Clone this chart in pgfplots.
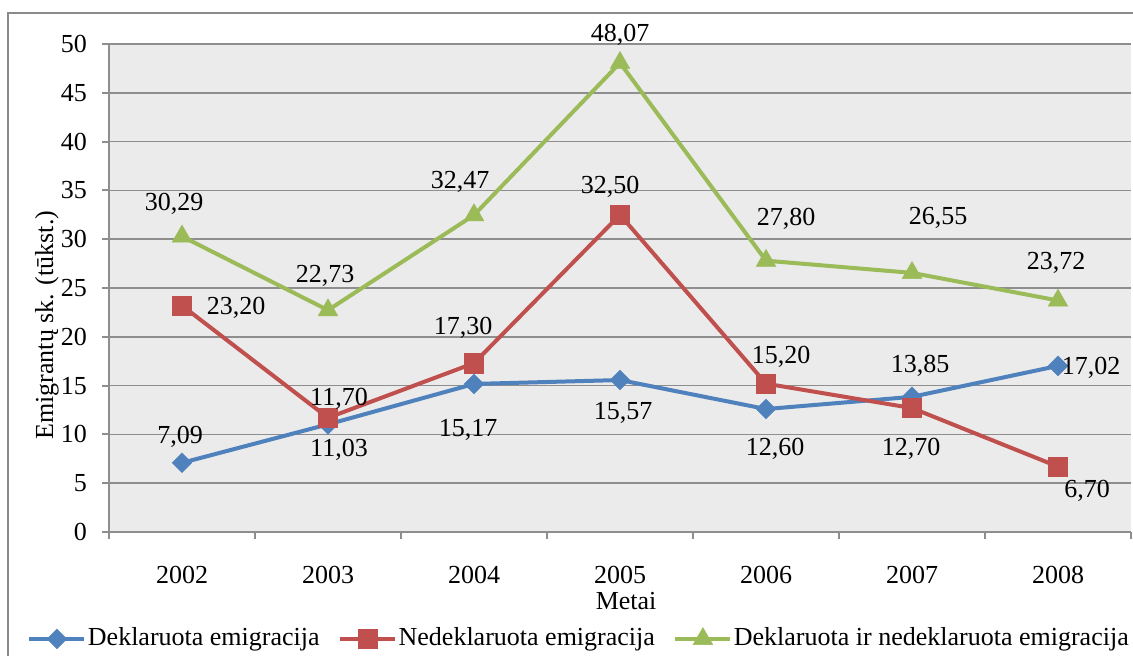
\documentclass[border=0pt]{standalone}
\usepackage{pgfplots}
\pgfplotsset{compat=1.18}
\usepackage{pgfplotstable}
\usepackage{fontspec}
\setmainfont{Liberation Serif}
\definecolor{cblue}{HTML}{4F81BD}
\definecolor{cred}{HTML}{C0504D}
\definecolor{cgreen}{HTML}{9BBB59}
\definecolor{bggray}{HTML}{EBEBEB}
\definecolor{gridgray}{HTML}{8E8E8E}
\definecolor{framegray}{HTML}{8A8A8A}

\pgfplotstableread{
x y dx dy
0 7.09 -1 14
1 11.03 5.5 -11.5
2 15.17 -3 -22
3 15.57 1.5 -15.5
4 12.60 4.5 -19
5 13.85 4 16.5
6 17.02 16.5 0
}\tblue
\pgfplotstableread{
x y dx dy
0 23.20 27 0
1 11.70 5.5 10.5
2 17.30 -5.5 18.5
3 32.50 -5 15
4 15.20 7.5 14.5
5 12.70 -0.5 -19.5
6 6.70 14.5 -11
}\tred
\pgfplotstableread{
x y dx dy
0 30.29 -4 17.5
1 22.73 -1.5 18
2 32.47 -7 17.5
3 48.07 0 15
4 27.80 10 22
5 26.55 13 28.5
6 23.72 -1 20
}\tgreen

\begin{document}
\fontsize{13}{15.6}\selectfont
\begin{tikzpicture}
\useasboundingbox (0pt,0pt) rectangle (566.5pt,327.5pt);
\draw[framegray, line width=1pt] (4pt,-10pt) rectangle (580pt,321pt);
\begin{axis}[
  at={(54.5pt,61.5pt)}, anchor=south west,
  scale only axis, width=511pt, height=244pt,
  xmin=-0.5, xmax=6.5, ymin=0, ymax=50,
  clip=false,
  axis background/.style={fill=bggray},
  axis x line*=bottom, axis y line*=left,
  axis line style={gridgray, line width=1pt, -},
  ymajorgrids, grid style={gridgray, line width=0.75pt},
  ytick={0,5,...,50},
  xtick={-0.5,0.5,...,6.5},
  xticklabels={2002,2003,2004,2005,2006,2007,2008},
  x tick label as interval,
  tick style={gridgray, line width=1pt},
  tick align=outside, major tick length=3.5pt,
  /pgf/number format/assume math mode=true,
  xticklabel style={yshift=-9pt},
  yticklabel style={xshift=-3pt},
  xlabel={Metai},
  xlabel style={at={(axis description cs:0.506,-0.1424)}, anchor=center},
  ylabel={Emigrantų sk. (tūkst.)},
  ylabel style={at={(axis description cs:-0.0607,0.424)}, anchor=center},
  legend columns=-1,
  legend style={at={(axis description cs:-0.0802,-0.219)}, anchor=west,
    draw=none, fill=none, inner sep=0pt,
    nodes={inner sep=0.75pt},
    /tikz/every even column/.append style={column sep=8.5pt}},
  legend image code/.code={\draw[mark repeat=2,mark phase=2,#1] plot coordinates {(0pt,0pt) (13.75pt,0pt) (27.5pt,0pt)};},
  every axis plot/.append style={line width=2pt},
  point meta=y,
  nodes near coords={\pgfmathprintnumber[fixed,fixed zerofill,precision=2,use comma,assume math mode=true]{\pgfplotspointmeta}},
  visualization depends on={\thisrow{dx}\as\dx},
  visualization depends on={\thisrow{dy}\as\dy},
  every node near coord/.append style={anchor=center, text depth=0pt, text=black, xshift=\dx pt, yshift=\dy pt},
]
\addplot[cblue, mark=square*, mark options={solid, rotate=45, line width=0.2pt, mark size=3.5pt}] table[x=x,y=y] {\tblue};
\addlegendentry{Deklaruota emigracija}
\addplot[cred, mark=square*, mark options={solid, line width=0.2pt, mark size=4.8pt}] table[x=x,y=y] {\tred};
\addlegendentry{Nedeklaruota emigracija}
\addplot[cgreen, mark=triangle*, mark options={solid, line width=0.2pt, mark size=5.7pt}] table[x=x,y=y] {\tgreen};
\addlegendentry{Deklaruota ir nedeklaruota emigracija}
\end{axis}
\end{tikzpicture}
\end{document}
